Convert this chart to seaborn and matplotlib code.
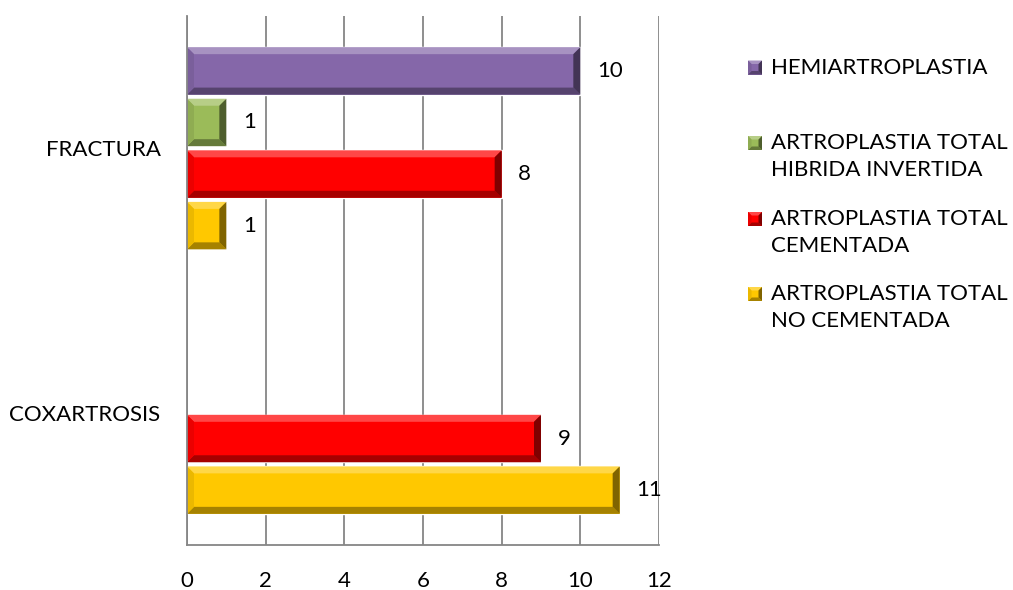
import matplotlib
matplotlib.use("Agg")
import matplotlib.pyplot as plt
import seaborn as sns
import pandas as pd
import numpy as np
from matplotlib.patches import Polygon, Rectangle
from matplotlib.colors import to_rgb

# ---- data ----
categories = ["FRACTURA", "COXARTROSIS"]
series = [
    "HEMIARTROPLASTIA",
    "ARTROPLASTIA TOTAL HIBRIDA INVERTIDA",
    "ARTROPLASTIA TOTAL CEMENTADA",
    "ARTROPLASTIA TOTAL NO CEMENTADA",
]
legend_labels = [
    "HEMIARTROPLASTIA",
    "ARTROPLASTIA TOTAL\nHIBRIDA INVERTIDA",
    "ARTROPLASTIA TOTAL\nCEMENTADA",
    "ARTROPLASTIA TOTAL\nNO CEMENTADA",
]
fractura_values = [10, 1, 8, 1]
coxartrosis_values = [None, None, 9, 11]
colors = ["#8567A9", "#9BBB59", "#FF0000", "#FFC800"]
x_ticks = [0, 2, 4, 6, 8, 10, 12]

rows = []
for cat, vals in zip(categories, [fractura_values, coxartrosis_values]):
    for s, v in zip(series, vals):
        if v is not None:
            rows.append({"category": cat, "series": s, "value": v})
df = pd.DataFrame(rows)

# ---- styling ----
sns.set_theme(style="white")
plt.rcParams["font.family"] = ["Lato", "DejaVu Sans"]
FS = 16
GRID = "#868686"

W, H = 1013, 590
fig = plt.figure(figsize=(W / 100, H / 100), dpi=100)
ax = fig.add_axes([187 / W, 45 / H, 472 / W, 529 / H])

sns.barplot(
    data=df, x="value", y="category", hue="series",
    order=categories, hue_order=series, palette=colors,
    orient="h", width=0.78, gap=0.08, errorbar=None,
    saturation=1, legend=False, ax=ax,
)

ax.set_xlim(0, 12)
ax.set_ylim(1.5, -0.5)
ax.set_xlabel("")
ax.set_ylabel("")
ax.set_xticks(x_ticks)
ax.set_xticklabels([str(t) for t in x_ticks])
ax.xaxis.grid(True, color=GRID, lw=1.3)
ax.yaxis.grid(False)
ax.set_axisbelow(True)

# category separators as major ticks, names centred as minor ticks
ax.set_yticks([-0.5, 0.5, 1.5])
ax.set_yticklabels([])
ax.set_yticks([0, 1], minor=True)
ax.set_yticklabels(categories, minor=True)

for side in ["top", "right"]:
    ax.spines[side].set_visible(False)
for side in ["left", "bottom"]:
    ax.spines[side].set_color(GRID)
    ax.spines[side].set_linewidth(1.3)

ax.tick_params(axis="both", which="major", direction="out", length=7,
               width=1.3, color=GRID, labelsize=FS, labelcolor="black")
ax.tick_params(axis="x", pad=12)
ax.tick_params(axis="y", which="minor", length=0, pad=19,
               labelsize=FS, labelcolor="black")

# value labels
for cont in ax.containers:
    ax.bar_label(cont, labels=[f"{b.get_width():g}" for b in cont],
                 padding=12, fontsize=FS, color="black")


def mix(c, target, t):
    c = np.array(to_rgb(c))
    return tuple(c * (1 - t) + np.array(target) * t)


def bevel_faces(x0, x1, y0, y1, base, d):
    """Polygons (display coords) for a raised bevel; y1 is the visual top."""
    return [
        ([(x0, y1), (x1, y1), (x1 - d, y1 - d), (x0 + d, y1 - d)], mix(base, (1, 1, 1), 0.28)),
        ([(x0, y0), (x1, y0), (x1 - d, y0 + d), (x0 + d, y0 + d)], mix(base, (0, 0, 0), 0.35)),
        ([(x0, y1), (x0 + d, y1 - d), (x0 + d, y0 + d), (x0, y0)], mix(base, (0, 0, 0), 0.08)),
        ([(x1, y1), (x1 - d, y1 - d), (x1 - d, y0 + d), (x1, y0)], mix(base, (0, 0, 0), 0.5)),
    ]


# bevelled bar faces
fig.canvas.draw()
inv = ax.transData.inverted()
for p in list(ax.patches):
    if not isinstance(p, Rectangle) or p.get_width() <= 0:
        continue
    bb = p.get_window_extent()
    base = p.get_facecolor()[:3]
    for pts, col in bevel_faces(bb.x0, bb.x1, bb.y0, bb.y1, base, 7):
        ax.add_patch(Polygon(inv.transform(pts), closed=True, facecolor=col,
                             edgecolor="none", transform=ax.transData,
                             zorder=p.get_zorder() + 0.1))

# legend on the right
marker_centres = [67.5, 143, 219, 294]
s = 14
for lab, col, yc in zip(legend_labels, colors, marker_centres):
    x0, x1 = 748, 748 + s
    y0, y1 = H - yc - s / 2, H - yc + s / 2
    fig.add_artist(Rectangle((x0, y0), s, s, transform=None,
                             facecolor=col, edgecolor="none"))
    for pts, c in bevel_faces(x0, x1, y0, y1, col, 3.5):
        fig.add_artist(Polygon(pts, closed=True, facecolor=c,
                               edgecolor="none", transform=None))
    fig.text(771 / W, (H - yc + 10) / H, lab, fontsize=FS, va="top",
             ha="left", color="black", linespacing=1.45)

fig.savefig("out.png", dpi=100)
